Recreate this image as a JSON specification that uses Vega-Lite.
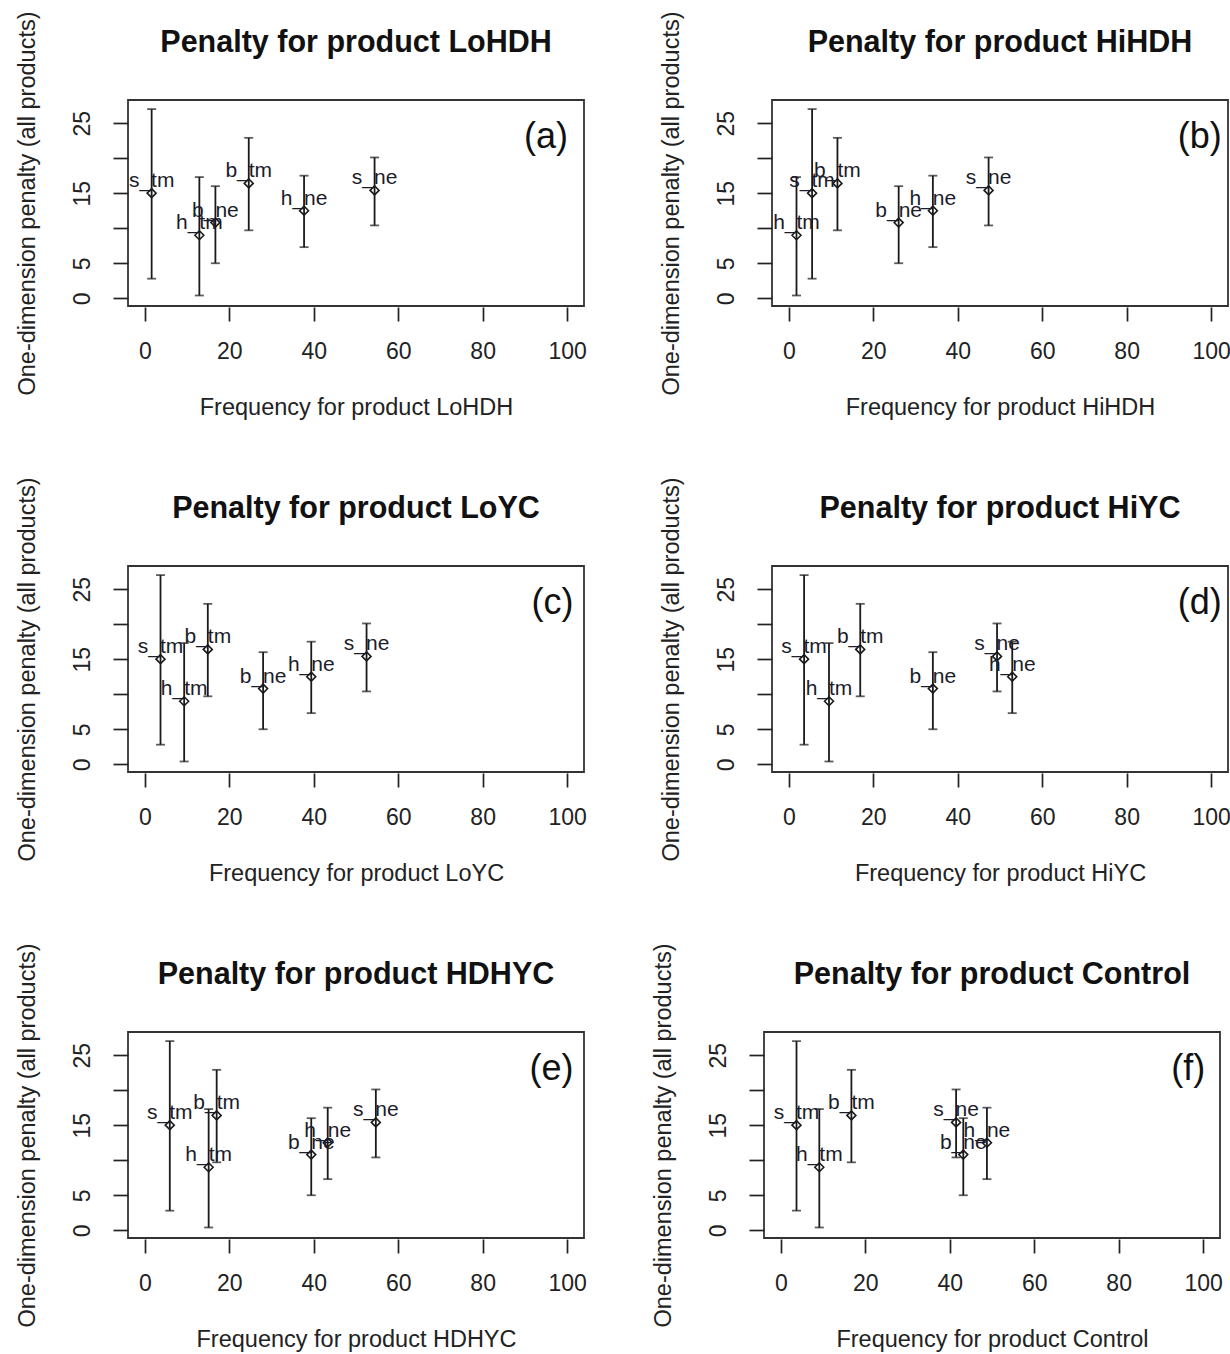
{
  "$schema": "https://vega.github.io/schema/vega-lite/v6.json",
  "background": "white",
  "padding": {"left": 14, "top": 10, "right": 0, "bottom": 0},
  "config": {
    "font": "Liberation Sans",
    "view": {"stroke": "#333", "strokeWidth": 1.8},
    "axis": {"domain": false, "grid": false, "tickColor": "#222", "tickWidth": 1.7, "labelColor": "#222", "labelFontSize": 23, "titleFontSize": 23.5, "titleFontWeight": "normal", "titleColor": "#222", "labelFont": "Liberation Sans", "titleFont": "Liberation Sans"},
    "axisX": {"tickSize": 14, "offset": 1, "labelPadding": 19, "labelBaseline": "top", "labelFlush": false, "labelOverlap": false, "titleX": 228, "titleY": 107, "titleBaseline": "alphabetic", "titleAlign": "center"},
    "axisY": {"labelExpr": "datum.value == 10 || datum.value == 20 ? '' : datum.label", "labelAngle": 270, "labelAlign": "center", "labelBaseline": "alphabetic", "tickSize": 15, "labelPadding": 24, "labelOverlap": false, "titleAngle": 270, "titleX": -94, "titleY": 103, "titleBaseline": "alphabetic", "titleAlign": "center"},
    "title": {"fontSize": 30.5, "fontWeight": "bold", "font": "Liberation Sans", "color": "#111", "anchor": "middle", "frame": "group", "baseline": "alphabetic", "offset": -48},
    "text": {"font": "Liberation Sans"}
  },
  "datasets": {
    "pts": [
      {"p": "LoHDH", "lab": "s_tm", "f": 1.6, "pen": 15.0, "lo": 2.8, "hi": 27.0},
      {"p": "LoHDH", "lab": "h_tm", "f": 12.9, "pen": 9.0, "lo": 0.4, "hi": 17.3},
      {"p": "LoHDH", "lab": "b_ne", "f": 16.7, "pen": 10.8, "lo": 5.0, "hi": 16.0},
      {"p": "LoHDH", "lab": "b_tm", "f": 24.6, "pen": 16.4, "lo": 9.7, "hi": 22.9},
      {"p": "LoHDH", "lab": "h_ne", "f": 37.7, "pen": 12.5, "lo": 7.3, "hi": 17.5},
      {"p": "LoHDH", "lab": "s_ne", "f": 54.4, "pen": 15.4, "lo": 10.4, "hi": 20.1},
      {"p": "HiHDH", "lab": "h_tm", "f": 1.8, "pen": 9.0, "lo": 0.4, "hi": 17.3},
      {"p": "HiHDH", "lab": "s_tm", "f": 5.5, "pen": 15.0, "lo": 2.8, "hi": 27.0},
      {"p": "HiHDH", "lab": "b_tm", "f": 11.5, "pen": 16.4, "lo": 9.7, "hi": 22.9},
      {"p": "HiHDH", "lab": "b_ne", "f": 26.0, "pen": 10.8, "lo": 5.0, "hi": 16.0},
      {"p": "HiHDH", "lab": "h_ne", "f": 34.1, "pen": 12.5, "lo": 7.3, "hi": 17.5},
      {"p": "HiHDH", "lab": "s_ne", "f": 47.3, "pen": 15.4, "lo": 10.4, "hi": 20.1},
      {"p": "LoYC", "lab": "s_tm", "f": 3.7, "pen": 15.0, "lo": 2.8, "hi": 27.0},
      {"p": "LoYC", "lab": "h_tm", "f": 9.3, "pen": 9.0, "lo": 0.4, "hi": 17.3},
      {"p": "LoYC", "lab": "b_tm", "f": 14.9, "pen": 16.4, "lo": 9.7, "hi": 22.9},
      {"p": "LoYC", "lab": "b_ne", "f": 28.0, "pen": 10.8, "lo": 5.0, "hi": 16.0},
      {"p": "LoYC", "lab": "h_ne", "f": 39.4, "pen": 12.5, "lo": 7.3, "hi": 17.5},
      {"p": "LoYC", "lab": "s_ne", "f": 52.5, "pen": 15.4, "lo": 10.4, "hi": 20.1},
      {"p": "HiYC", "lab": "s_tm", "f": 3.6, "pen": 15.0, "lo": 2.8, "hi": 27.0},
      {"p": "HiYC", "lab": "h_tm", "f": 9.5, "pen": 9.0, "lo": 0.4, "hi": 17.3},
      {"p": "HiYC", "lab": "b_tm", "f": 16.9, "pen": 16.4, "lo": 9.7, "hi": 22.9},
      {"p": "HiYC", "lab": "b_ne", "f": 34.1, "pen": 10.8, "lo": 5.0, "hi": 16.0},
      {"p": "HiYC", "lab": "s_ne", "f": 49.3, "pen": 15.4, "lo": 10.4, "hi": 20.1},
      {"p": "HiYC", "lab": "h_ne", "f": 52.9, "pen": 12.5, "lo": 7.3, "hi": 17.5},
      {"p": "HDHYC", "lab": "s_tm", "f": 5.9, "pen": 15.0, "lo": 2.8, "hi": 27.0},
      {"p": "HDHYC", "lab": "h_tm", "f": 15.1, "pen": 9.0, "lo": 0.4, "hi": 17.3},
      {"p": "HDHYC", "lab": "b_tm", "f": 17.0, "pen": 16.4, "lo": 9.7, "hi": 22.9},
      {"p": "HDHYC", "lab": "b_ne", "f": 39.4, "pen": 10.8, "lo": 5.0, "hi": 16.0},
      {"p": "HDHYC", "lab": "h_ne", "f": 43.3, "pen": 12.5, "lo": 7.3, "hi": 17.5},
      {"p": "HDHYC", "lab": "s_ne", "f": 54.7, "pen": 15.4, "lo": 10.4, "hi": 20.1},
      {"p": "Control", "lab": "s_tm", "f": 3.7, "pen": 15.0, "lo": 2.8, "hi": 27.0},
      {"p": "Control", "lab": "h_tm", "f": 9.1, "pen": 9.0, "lo": 0.4, "hi": 17.3},
      {"p": "Control", "lab": "b_tm", "f": 16.7, "pen": 16.4, "lo": 9.7, "hi": 22.9},
      {"p": "Control", "lab": "s_ne", "f": 41.5, "pen": 15.4, "lo": 10.4, "hi": 20.1},
      {"p": "Control", "lab": "b_ne", "f": 43.2, "pen": 10.8, "lo": 5.0, "hi": 16.0},
      {"p": "Control", "lab": "h_ne", "f": 48.8, "pen": 12.5, "lo": 7.3, "hi": 17.5}
    ]
  },
  "spacing": 466,
  "bounds": "flush",
  "vconcat": [
    {
      "spacing": 188,
      "bounds": "flush",
      "hconcat": [
        {
          "width": 456, "height": 206,
          "title": {"text": "Penalty for product LoHDH"},
          "layer": [
            {
              "data": {"name": "pts"},
              "transform": [{"filter": "datum.p == 'LoHDH'"}],
              "encoding": {"x": {"field": "f", "type": "quantitative", "scale": {"domain": [-4, 104], "nice": false, "zero": false}, "title": "Frequency for product LoHDH", "axis": {"values": [0, 20, 40, 60, 80, 100]}}},
              "layer": [
                {"mark": {"type": "rule", "color": "#1a1a1a", "strokeWidth": 1.8}, "encoding": {"y": {"field": "lo", "type": "quantitative", "scale": {"domain": [-1.1, 28.3], "nice": false, "zero": false}, "title": "One-dimension penalty (all products)", "axis": {"values": [0, 5, 10, 15, 20, 25]}}, "y2": {"field": "hi"}}},
                {"mark": {"type": "tick", "orient": "horizontal", "size": 9, "thickness": 1.8, "color": "#1a1a1a"}, "encoding": {"y": {"field": "lo", "type": "quantitative", "title": "One-dimension penalty (all products)"}}},
                {"mark": {"type": "tick", "orient": "horizontal", "size": 9, "thickness": 1.8, "color": "#1a1a1a"}, "encoding": {"y": {"field": "hi", "type": "quantitative", "title": "One-dimension penalty (all products)"}}},
                {"mark": {"type": "point", "shape": "diamond", "filled": false, "size": 80, "strokeWidth": 1.6, "color": "#1a1a1a", "opacity": 1}, "encoding": {"y": {"field": "pen", "type": "quantitative", "title": "One-dimension penalty (all products)"}}},
                {"mark": {"type": "text", "fontSize": 21, "baseline": "alphabetic", "align": "center", "dy": -6, "color": "#1c1c2a"}, "encoding": {"y": {"field": "pen", "type": "quantitative", "title": "One-dimension penalty (all products)"}, "text": {"field": "lab"}}}
              ]
            },
            {
              "data": {"values": [{"letter": "(a)"}]},
              "mark": {"type": "text", "fontSize": 36, "align": "right", "baseline": "alphabetic", "color": "#111"},
              "encoding": {"x": {"datum": 100.2, "type": "quantitative", "title": "Frequency for product LoHDH", "axis": {"values": [0, 20, 40, 60, 80, 100]}}, "y": {"datum": 21.5, "type": "quantitative", "title": "One-dimension penalty (all products)"}, "text": {"field": "letter"}}
            }
          ]
        },
        {
          "width": 456, "height": 206,
          "title": {"text": "Penalty for product HiHDH"},
          "layer": [
            {
              "data": {"name": "pts"},
              "transform": [{"filter": "datum.p == 'HiHDH'"}],
              "encoding": {"x": {"field": "f", "type": "quantitative", "scale": {"domain": [-4, 104], "nice": false, "zero": false}, "title": "Frequency for product HiHDH", "axis": {"values": [0, 20, 40, 60, 80, 100]}}},
              "layer": [
                {"mark": {"type": "rule", "color": "#1a1a1a", "strokeWidth": 1.8}, "encoding": {"y": {"field": "lo", "type": "quantitative", "scale": {"domain": [-1.1, 28.3], "nice": false, "zero": false}, "title": "One-dimension penalty (all products)", "axis": {"values": [0, 5, 10, 15, 20, 25]}}, "y2": {"field": "hi"}}},
                {"mark": {"type": "tick", "orient": "horizontal", "size": 9, "thickness": 1.8, "color": "#1a1a1a"}, "encoding": {"y": {"field": "lo", "type": "quantitative", "title": "One-dimension penalty (all products)"}}},
                {"mark": {"type": "tick", "orient": "horizontal", "size": 9, "thickness": 1.8, "color": "#1a1a1a"}, "encoding": {"y": {"field": "hi", "type": "quantitative", "title": "One-dimension penalty (all products)"}}},
                {"mark": {"type": "point", "shape": "diamond", "filled": false, "size": 80, "strokeWidth": 1.6, "color": "#1a1a1a", "opacity": 1}, "encoding": {"y": {"field": "pen", "type": "quantitative", "title": "One-dimension penalty (all products)"}}},
                {"mark": {"type": "text", "fontSize": 21, "baseline": "alphabetic", "align": "center", "dy": -6, "color": "#1c1c2a"}, "encoding": {"y": {"field": "pen", "type": "quantitative", "title": "One-dimension penalty (all products)"}, "text": {"field": "lab"}}}
              ]
            },
            {
              "data": {"values": [{"letter": "(b)"}]},
              "mark": {"type": "text", "fontSize": 36, "align": "right", "baseline": "alphabetic", "color": "#111"},
              "encoding": {"x": {"datum": 102.5, "type": "quantitative", "title": "Frequency for product HiHDH", "axis": {"values": [0, 20, 40, 60, 80, 100]}}, "y": {"datum": 21.5, "type": "quantitative", "title": "One-dimension penalty (all products)"}, "text": {"field": "letter"}}
            }
          ]
        }
      ]
    },
    {
      "spacing": 188,
      "bounds": "flush",
      "hconcat": [
        {
          "width": 456, "height": 206,
          "title": {"text": "Penalty for product LoYC"},
          "layer": [
            {
              "data": {"name": "pts"},
              "transform": [{"filter": "datum.p == 'LoYC'"}],
              "encoding": {"x": {"field": "f", "type": "quantitative", "scale": {"domain": [-4, 104], "nice": false, "zero": false}, "title": "Frequency for product LoYC", "axis": {"values": [0, 20, 40, 60, 80, 100]}}},
              "layer": [
                {"mark": {"type": "rule", "color": "#1a1a1a", "strokeWidth": 1.8}, "encoding": {"y": {"field": "lo", "type": "quantitative", "scale": {"domain": [-1.1, 28.3], "nice": false, "zero": false}, "title": "One-dimension penalty (all products)", "axis": {"values": [0, 5, 10, 15, 20, 25]}}, "y2": {"field": "hi"}}},
                {"mark": {"type": "tick", "orient": "horizontal", "size": 9, "thickness": 1.8, "color": "#1a1a1a"}, "encoding": {"y": {"field": "lo", "type": "quantitative", "title": "One-dimension penalty (all products)"}}},
                {"mark": {"type": "tick", "orient": "horizontal", "size": 9, "thickness": 1.8, "color": "#1a1a1a"}, "encoding": {"y": {"field": "hi", "type": "quantitative", "title": "One-dimension penalty (all products)"}}},
                {"mark": {"type": "point", "shape": "diamond", "filled": false, "size": 80, "strokeWidth": 1.6, "color": "#1a1a1a", "opacity": 1}, "encoding": {"y": {"field": "pen", "type": "quantitative", "title": "One-dimension penalty (all products)"}}},
                {"mark": {"type": "text", "fontSize": 21, "baseline": "alphabetic", "align": "center", "dy": -6, "color": "#1c1c2a"}, "encoding": {"y": {"field": "pen", "type": "quantitative", "title": "One-dimension penalty (all products)"}, "text": {"field": "lab"}}}
              ]
            },
            {
              "data": {"values": [{"letter": "(c)"}]},
              "mark": {"type": "text", "fontSize": 36, "align": "right", "baseline": "alphabetic", "color": "#111"},
              "encoding": {"x": {"datum": 101.5, "type": "quantitative", "title": "Frequency for product LoYC", "axis": {"values": [0, 20, 40, 60, 80, 100]}}, "y": {"datum": 21.5, "type": "quantitative", "title": "One-dimension penalty (all products)"}, "text": {"field": "letter"}}
            }
          ]
        },
        {
          "width": 456, "height": 206,
          "title": {"text": "Penalty for product HiYC"},
          "layer": [
            {
              "data": {"name": "pts"},
              "transform": [{"filter": "datum.p == 'HiYC'"}],
              "encoding": {"x": {"field": "f", "type": "quantitative", "scale": {"domain": [-4, 104], "nice": false, "zero": false}, "title": "Frequency for product HiYC", "axis": {"values": [0, 20, 40, 60, 80, 100]}}},
              "layer": [
                {"mark": {"type": "rule", "color": "#1a1a1a", "strokeWidth": 1.8}, "encoding": {"y": {"field": "lo", "type": "quantitative", "scale": {"domain": [-1.1, 28.3], "nice": false, "zero": false}, "title": "One-dimension penalty (all products)", "axis": {"values": [0, 5, 10, 15, 20, 25]}}, "y2": {"field": "hi"}}},
                {"mark": {"type": "tick", "orient": "horizontal", "size": 9, "thickness": 1.8, "color": "#1a1a1a"}, "encoding": {"y": {"field": "lo", "type": "quantitative", "title": "One-dimension penalty (all products)"}}},
                {"mark": {"type": "tick", "orient": "horizontal", "size": 9, "thickness": 1.8, "color": "#1a1a1a"}, "encoding": {"y": {"field": "hi", "type": "quantitative", "title": "One-dimension penalty (all products)"}}},
                {"mark": {"type": "point", "shape": "diamond", "filled": false, "size": 80, "strokeWidth": 1.6, "color": "#1a1a1a", "opacity": 1}, "encoding": {"y": {"field": "pen", "type": "quantitative", "title": "One-dimension penalty (all products)"}}},
                {"mark": {"type": "text", "fontSize": 21, "baseline": "alphabetic", "align": "center", "dy": -6, "color": "#1c1c2a"}, "encoding": {"y": {"field": "pen", "type": "quantitative", "title": "One-dimension penalty (all products)"}, "text": {"field": "lab"}}}
              ]
            },
            {
              "data": {"values": [{"letter": "(d)"}]},
              "mark": {"type": "text", "fontSize": 36, "align": "right", "baseline": "alphabetic", "color": "#111"},
              "encoding": {"x": {"datum": 102.5, "type": "quantitative", "title": "Frequency for product HiYC", "axis": {"values": [0, 20, 40, 60, 80, 100]}}, "y": {"datum": 21.5, "type": "quantitative", "title": "One-dimension penalty (all products)"}, "text": {"field": "letter"}}
            }
          ]
        }
      ]
    },
    {
      "spacing": 180,
      "bounds": "flush",
      "hconcat": [
        {
          "width": 456, "height": 206,
          "title": {"text": "Penalty for product HDHYC"},
          "layer": [
            {
              "data": {"name": "pts"},
              "transform": [{"filter": "datum.p == 'HDHYC'"}],
              "encoding": {"x": {"field": "f", "type": "quantitative", "scale": {"domain": [-4, 104], "nice": false, "zero": false}, "title": "Frequency for product HDHYC", "axis": {"values": [0, 20, 40, 60, 80, 100]}}},
              "layer": [
                {"mark": {"type": "rule", "color": "#1a1a1a", "strokeWidth": 1.8}, "encoding": {"y": {"field": "lo", "type": "quantitative", "scale": {"domain": [-1.1, 28.3], "nice": false, "zero": false}, "title": "One-dimension penalty (all products)", "axis": {"values": [0, 5, 10, 15, 20, 25]}}, "y2": {"field": "hi"}}},
                {"mark": {"type": "tick", "orient": "horizontal", "size": 9, "thickness": 1.8, "color": "#1a1a1a"}, "encoding": {"y": {"field": "lo", "type": "quantitative", "title": "One-dimension penalty (all products)"}}},
                {"mark": {"type": "tick", "orient": "horizontal", "size": 9, "thickness": 1.8, "color": "#1a1a1a"}, "encoding": {"y": {"field": "hi", "type": "quantitative", "title": "One-dimension penalty (all products)"}}},
                {"mark": {"type": "point", "shape": "diamond", "filled": false, "size": 80, "strokeWidth": 1.6, "color": "#1a1a1a", "opacity": 1}, "encoding": {"y": {"field": "pen", "type": "quantitative", "title": "One-dimension penalty (all products)"}}},
                {"mark": {"type": "text", "fontSize": 21, "baseline": "alphabetic", "align": "center", "dy": -6, "color": "#1c1c2a"}, "encoding": {"y": {"field": "pen", "type": "quantitative", "title": "One-dimension penalty (all products)"}, "text": {"field": "lab"}}}
              ]
            },
            {
              "data": {"values": [{"letter": "(e)"}]},
              "mark": {"type": "text", "fontSize": 36, "align": "right", "baseline": "alphabetic", "color": "#111"},
              "encoding": {"x": {"datum": 101.5, "type": "quantitative", "title": "Frequency for product HDHYC", "axis": {"values": [0, 20, 40, 60, 80, 100]}}, "y": {"datum": 21.5, "type": "quantitative", "title": "One-dimension penalty (all products)"}, "text": {"field": "letter"}}
            }
          ]
        },
        {
          "width": 456, "height": 206,
          "title": {"text": "Penalty for product Control"},
          "layer": [
            {
              "data": {"name": "pts"},
              "transform": [{"filter": "datum.p == 'Control'"}],
              "encoding": {"x": {"field": "f", "type": "quantitative", "scale": {"domain": [-4, 104], "nice": false, "zero": false}, "title": "Frequency for product Control", "axis": {"values": [0, 20, 40, 60, 80, 100]}}},
              "layer": [
                {"mark": {"type": "rule", "color": "#1a1a1a", "strokeWidth": 1.8}, "encoding": {"y": {"field": "lo", "type": "quantitative", "scale": {"domain": [-1.1, 28.3], "nice": false, "zero": false}, "title": "One-dimension penalty (all products)", "axis": {"values": [0, 5, 10, 15, 20, 25]}}, "y2": {"field": "hi"}}},
                {"mark": {"type": "tick", "orient": "horizontal", "size": 9, "thickness": 1.8, "color": "#1a1a1a"}, "encoding": {"y": {"field": "lo", "type": "quantitative", "title": "One-dimension penalty (all products)"}}},
                {"mark": {"type": "tick", "orient": "horizontal", "size": 9, "thickness": 1.8, "color": "#1a1a1a"}, "encoding": {"y": {"field": "hi", "type": "quantitative", "title": "One-dimension penalty (all products)"}}},
                {"mark": {"type": "point", "shape": "diamond", "filled": false, "size": 80, "strokeWidth": 1.6, "color": "#1a1a1a", "opacity": 1}, "encoding": {"y": {"field": "pen", "type": "quantitative", "title": "One-dimension penalty (all products)"}}},
                {"mark": {"type": "text", "fontSize": 21, "baseline": "alphabetic", "align": "center", "dy": -6, "color": "#1c1c2a"}, "encoding": {"y": {"field": "pen", "type": "quantitative", "title": "One-dimension penalty (all products)"}, "text": {"field": "lab"}}}
              ]
            },
            {
              "data": {"values": [{"letter": "(f)"}]},
              "mark": {"type": "text", "fontSize": 36, "align": "right", "baseline": "alphabetic", "color": "#111"},
              "encoding": {"x": {"datum": 100.5, "type": "quantitative", "title": "Frequency for product Control", "axis": {"values": [0, 20, 40, 60, 80, 100]}}, "y": {"datum": 21.5, "type": "quantitative", "title": "One-dimension penalty (all products)"}, "text": {"field": "letter"}}
            }
          ]
        }
      ]
    }
  ]
}
